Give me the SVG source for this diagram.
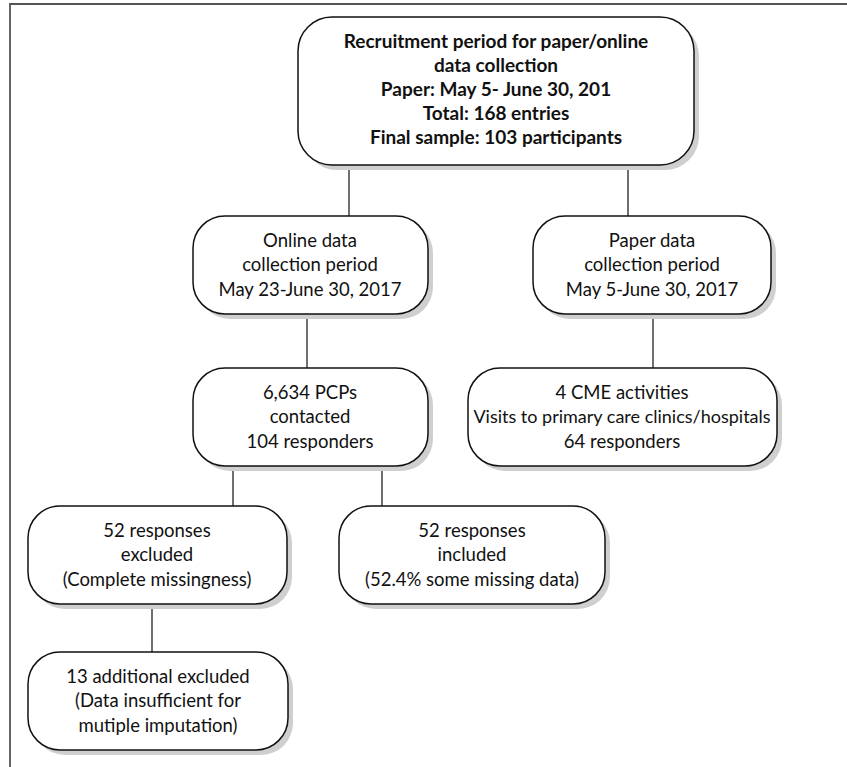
<svg xmlns="http://www.w3.org/2000/svg" width="847" height="767" viewBox="0 0 847 767">
<style>
.box{fill:#fff;stroke:#111;stroke-width:1.5}
.sh{fill:#cfcfcf}
.t{font-family:Lato,"Liberation Sans",sans-serif;font-size:18.5px;fill:#111;text-anchor:middle}
.b{font-weight:bold;font-size:19px}
.c{stroke:#333;stroke-width:1.4;fill:none}
.frame{stroke:#555;stroke-width:1.8;fill:none}
</style>
<rect width="847" height="767" fill="#fff"/>
<path class="frame" d="M10,767 V4 H847"/>
<g id="connectors">
<line class="c" x1="349" y1="165" x2="349" y2="216"/>
<line class="c" x1="628" y1="165" x2="628" y2="216"/>
<line class="c" x1="307" y1="314" x2="307" y2="368"/>
<line class="c" x1="653" y1="314" x2="653" y2="368"/>
<line class="c" x1="233" y1="466" x2="233" y2="506"/>
<line class="c" x1="382" y1="466" x2="382" y2="506"/>
<line class="c" x1="152" y1="604" x2="152" y2="652"/>
</g>
<g id="top">
<rect class="sh" x="303" y="22" width="396" height="148" rx="34"/>
<rect class="box" x="298" y="17" width="396" height="148" rx="34"/>
<text class="t b" x="496" y="48">Recruitment period for paper/online</text>
<text class="t b" x="496" y="72">data collection</text>
<text class="t b" x="496" y="96">Paper: May 5- June 30, 201</text>
<text class="t b" x="496" y="120">Total: 168 entries</text>
<text class="t b" x="496" y="144">Final sample: 103 participants</text>
</g>
<g id="online">
<rect class="sh" x="198" y="221" width="235" height="98" rx="32"/>
<rect class="box" x="193" y="216" width="235" height="98" rx="32"/>
<text class="t" x="310" y="247">Online data</text>
<text class="t" x="310" y="271">collection period</text>
<text class="t" x="310" y="296">May 23-June 30, 2017</text>
</g>
<g id="paper">
<rect class="sh" x="538" y="221" width="238" height="98" rx="32"/>
<rect class="box" x="533" y="216" width="238" height="98" rx="32"/>
<text class="t" x="652" y="247">Paper data</text>
<text class="t" x="652" y="271">collection period</text>
<text class="t" x="652" y="296">May 5-June 30, 2017</text>
</g>
<g id="pcps">
<rect class="sh" x="198" y="373" width="235" height="98" rx="32"/>
<rect class="box" x="193" y="368" width="235" height="98" rx="32"/>
<text class="t" x="310" y="399">6,634 PCPs</text>
<text class="t" x="310" y="423">contacted</text>
<text class="t" x="310" y="448">104 responders</text>
</g>
<g id="cme">
<rect class="sh" x="473" y="373" width="309" height="98" rx="32"/>
<rect class="box" x="468" y="368" width="309" height="98" rx="32"/>
<text class="t" x="622" y="399">4 CME activities</text>
<text class="t" x="622" y="423" style="font-size:18px">Visits to primary care clinics/hospitals</text>
<text class="t" x="622" y="448">64 responders</text>
</g>
<g id="excluded">
<rect class="sh" x="33" y="511" width="259" height="98" rx="32"/>
<rect class="box" x="28" y="506" width="259" height="98" rx="32"/>
<text class="t" x="157" y="537">52 responses</text>
<text class="t" x="157" y="561">excluded</text>
<text class="t" x="157" y="586">(Complete missingness)</text>
</g>
<g id="included">
<rect class="sh" x="344" y="511" width="266" height="98" rx="32"/>
<rect class="box" x="339" y="506" width="266" height="98" rx="32"/>
<text class="t" x="472" y="537">52 responses</text>
<text class="t" x="472" y="561">included</text>
<text class="t" x="472" y="586">(52.4% some missing data)</text>
</g>
<g id="additional">
<rect class="sh" x="33" y="657" width="260" height="98" rx="32"/>
<rect class="box" x="28" y="652" width="260" height="98" rx="32"/>
<text class="t" x="158" y="683">13 additional excluded</text>
<text class="t" x="158" y="707">(Data insufficient for</text>
<text class="t" x="158" y="732">mutiple imputation)</text>
</g>
</svg>
